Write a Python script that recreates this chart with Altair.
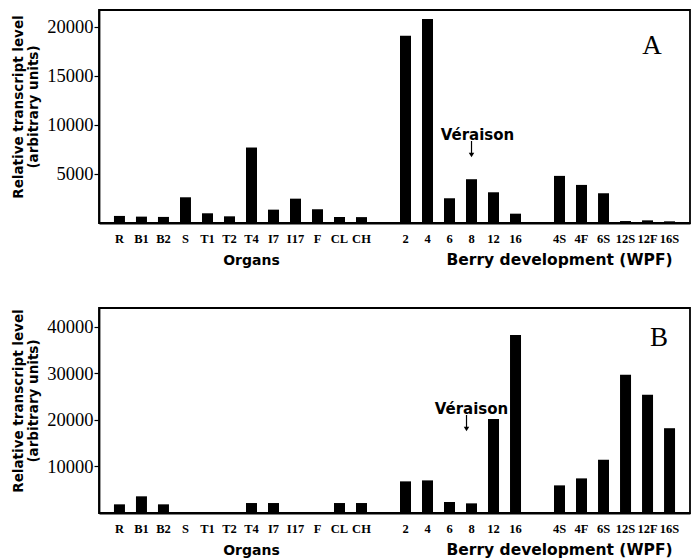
import altair as alt
import pandas as pd

# Sample groups along the x axis
organs = ["R", "B1", "B2", "S", "T1", "T2", "T4", "I7", "I17", "F", "CL", "CH"]
berry_weeks = ["2", "4", "6", "8", "12", "16"]
berry_tissue = ["4S", "4F", "6S", "12S", "12F", "16S"]

# Relative transcript levels, panel A
a_organs = [720, 650, 620, 2620, 990, 680, 7690, 1360, 2480, 1400, 610, 600]
a_weeks = [19080, 20780, 2520, 4460, 3130, 950]
a_tissue = [4800, 3880, 3030, 200, 270, 170]

# Relative transcript levels, panel B
b_organs = [1860, 3580, 1860, 0, 0, 0, 2140, 2140, 0, 0, 2140, 2140]
b_weeks = [6790, 7000, 2360, 2070, 20200, 38200]
b_tissue = [5930, 7430, 11430, 29700, 25400, 18200]

a_ticks = [5000, 10000, 15000, 20000]
b_ticks = [10000, 20000, 30000, 40000]

# empty slots separate the three groups
order = organs + ["gap1"] + berry_weeks + ["gap2"] + berry_tissue

SERIF = "Liberation Serif"
SANS = "DejaVu Sans"
W = 591


def panel(org, weeks, tissue, ymax, ticks, letter, h, letter_x, letter_y,
          ver_y, ver_dx, arrow_dx):
    cats = organs + berry_weeks + berry_tissue
    df = pd.DataFrame({"cat": cats, "level": org + weeks + tissue})
    xscale = alt.Scale(domain=order, paddingInner=0.5, paddingOuter=0.68)

    bars = alt.Chart(df).mark_bar(color="black").encode(
        x=alt.X("cat:N", sort=order, scale=xscale, title=None,
                axis=alt.Axis(labelExpr="indexof(datum.value, 'gap') == 0 ? '' : datum.value",
                              labelAngle=0, ticks=False, labelPadding=9,
                              labelFont=SERIF, labelFontWeight="bold", labelFontSize=12.5,
                              labelOverlap=False, labelColor="black",
                              domainColor="black", domainWidth=1.8)),
        y=alt.Y("level:Q", scale=alt.Scale(domain=[0, ymax], nice=False),
                title=["Relative transcript level", "(arbitrary units)"],
                axis=alt.Axis(values=ticks, format="d", grid=False,
                              labelFont=SERIF, labelFontSize=18.5, labelColor="black",
                              labelFontWeight="normal", labelPadding=1,
                              tickSize=5, tickColor="black", tickWidth=1.2,
                              domainColor="black", domainWidth=1.8,
                              titleFont=SANS, titleFontSize=13.5, titleFontWeight="bold",
                              titleColor="black", titlePadding=6, titleLineHeight=15,
                              titleY=h / 2 - 10)),
    )

    groups = pd.DataFrame({"cat": ["T4", "4S"],
                           "label": ["Organs", "Berry development (WPF)"],
                           "size": [14, 15.5]})
    group_text = alt.Chart(groups).mark_text(
        font=SANS, fontWeight="bold", color="black",
        baseline="alphabetic", align="center",
    ).encode(
        x=alt.X("cat:N", sort=order, scale=xscale),
        y=alt.value(h + 42),
        text="label:N",
        size=alt.Size("size:Q", scale=None, legend=None),
    )

    ver = pd.DataFrame({"cat": ["8"], "label": ["Véraison"]})
    ver_text = alt.Chart(ver).mark_text(
        font=SANS, fontSize=15, fontWeight="bold", color="black",
        baseline="alphabetic", align="center", dx=ver_dx,
    ).encode(x=alt.X("cat:N", sort=order, scale=xscale),
             y=alt.value(ver_y), text="label:N")
    ver_line = alt.Chart(ver).mark_rule(color="black", strokeWidth=1.2, xOffset=arrow_dx).encode(
        x=alt.X("cat:N", sort=order, scale=xscale),
        y=alt.value(ver_y + 1), y2=alt.value(ver_y + 14))
    ver_head = alt.Chart(ver).mark_point(
        shape="triangle-down", filled=True, color="black", size=30, opacity=1,
        xOffset=arrow_dx,
    ).encode(x=alt.X("cat:N", sort=order, scale=xscale), y=alt.value(ver_y + 15))

    tag = alt.Chart(pd.DataFrame({"label": [letter]})).mark_text(
        font=SERIF, fontSize=27, color="black", baseline="alphabetic", align="center",
    ).encode(x=alt.value(letter_x), y=alt.value(letter_y), text="label:N")

    return alt.layer(bars, group_text, ver_text, ver_line, ver_head, tag).properties(
        width=W, height=h)


top = panel(a_organs, a_weeks, a_tissue, 21700, a_ticks, "A", 213, W - 38, 44, 130, 6, 0)
bottom = panel(b_organs, b_weeks, b_tissue, 44000, b_ticks, "B", 205, W - 31, 38, 106, 0, -5)

chart = alt.vconcat(top, bottom, spacing=37).properties(
    padding={"top": 9, "left": 10, "right": 2, "bottom": 2},
    background="white",
).configure_view(stroke="black", strokeWidth=1.8)

chart.save("out.html", embed_options={"renderer": "svg", "actions": False})
